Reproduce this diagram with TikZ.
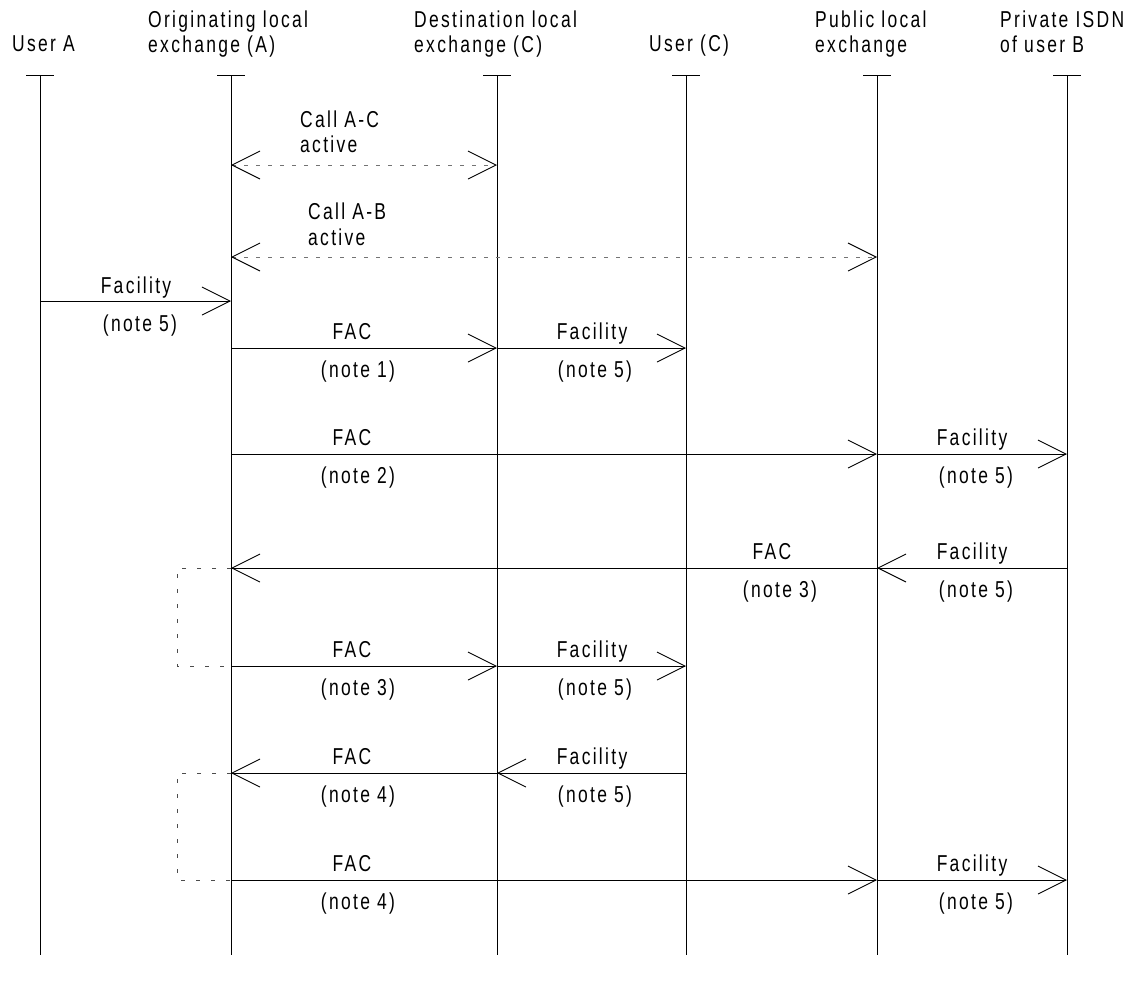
\documentclass[tikz,border=0pt]{standalone}
\usepackage{fontspec}
\setmainfont{Liberation Sans}[FakeStretch=0.76, LetterSpace=10]
\usetikzlibrary{arrows.meta}
\tikzset{
  lbl/.style={font=\fontsize{23}{25}\selectfont, inner sep=0pt, anchor=base},
  hdr/.style={font=\fontsize{23}{25}\selectfont, inner sep=0pt, anchor=base west, align=left},
  life/.style={line width=0.9pt, black},
  msg/.style={line width=0.9pt, black, -{Straight Barb[length=28pt,width=28pt,line width=0.9pt]}},
  dmsg/.style={line width=0.9pt, black!55, dash pattern=on 4pt off 8pt,
     {Straight Barb[length=28pt,width=28pt,line width=0.9pt,color=black]}-{Straight Barb[length=28pt,width=28pt,line width=0.9pt,color=black]}},
  brk/.style={line width=0.8pt, black!70, dash pattern=on 4pt off 11pt},
}
\begin{document}
\begin{tikzpicture}[x=1pt,y=-1pt]
\useasboundingbox (0,0) rectangle (1137,983);
% lifeline anchors
\foreach \n/\x in {A/40,O/231,D/497,C/686,P/877,B/1067}{
  \coordinate (t\n) at (\x,75);
  \coordinate (b\n) at (\x,955);
  \coordinate (l\n) at (\x-14,75);
  \coordinate (r\n) at (\x+14,75);
}
% headers (base = baseline of last line)
\node[hdr] (hA) at (12,51) {User A};
\node[hdr] (hO) at (148,52) {Originating local\\exchange (A)};
\node[hdr] (hD) at (414,52) {Destination local\\exchange (C)};
\node[hdr] (hC) at (649,51) {User (C)};
\node[hdr] (hP) at (815,52) {Public local\\exchange};
\node[hdr] (hB) at (1000,52) {Private ISDN\\of user B};
% lifelines
\foreach \n in {A,O,D,C,P,B}{
  \draw[life] (l\n) -- (r\n);
  \draw[life] (t\n) -- (b\n);
}
% rows
\coordinate (r1) at (0,165);
\coordinate (r2) at (0,257);
\coordinate (r3) at (0,301);
\coordinate (r4) at (0,348);
\coordinate (r5) at (0,454);
\coordinate (r6) at (0,568);
\coordinate (r7) at (0,666);
\coordinate (r8) at (0,773);
\coordinate (r9) at (0,880);
% call active
\draw[dmsg] (tO |- r1) -- (tD |- r1);
\node[hdr] (c1a) at (300,127) {Call A-C};
\node[hdr] (c1b) at (300,152) {active};
\draw[dmsg] (tO |- r2) -- (tP |- r2);
\node[hdr] (c2a) at (308,219) {Call A-B};
\node[hdr] (c2b) at (308,245) {active};
% facility from user A
\draw[msg] (tA |- r3) -- (tO |- r3);
\node[lbl] (m3a) at (136,293) {Facility};
\node[lbl] (m3b) at (140,331) {(note 5)};
% row 4
\draw[msg] (tO |- r4) -- (tD |- r4);
\draw[msg] (tD |- r4) -- (tC |- r4);
\node[lbl] (m4a) at (352,339) {FAC};
\node[lbl] (m4b) at (358,377) {(note 1)};
\node[lbl] (m4c) at (592,339) {Facility};
\node[lbl] (m4d) at (595,377) {(note 5)};
% row 5
\draw[msg] (tO |- r5) -- (tP |- r5);
\draw[msg] (tP |- r5) -- (tB |- r5);
\node[lbl] (m5a) at (352,445) {FAC};
\node[lbl] (m5b) at (358,483) {(note 2)};
\node[lbl] (m5c) at (972,445) {Facility};
\node[lbl] (m5d) at (976,483) {(note 5)};
% row 6
\draw[msg] (tB |- r6) -- (tP |- r6);
\draw[msg] (tP |- r6) -- (tO |- r6);
\node[lbl] (m6a) at (772,559) {FAC};
\node[lbl] (m6b) at (780,597) {(note 3)};
\node[lbl] (m6c) at (972,559) {Facility};
\node[lbl] (m6d) at (976,597) {(note 5)};
% row 7
\draw[msg] (tO |- r7) -- (tD |- r7);
\draw[msg] (tD |- r7) -- (tC |- r7);
\node[lbl] (m7a) at (352,657) {FAC};
\node[lbl] (m7b) at (358,695) {(note 3)};
\node[lbl] (m7c) at (592,657) {Facility};
\node[lbl] (m7d) at (595,695) {(note 5)};
% row 8
\draw[msg] (tC |- r8) -- (tD |- r8);
\draw[msg] (tD |- r8) -- (tO |- r8);
\node[lbl] (m8a) at (352,764) {FAC};
\node[lbl] (m8b) at (358,802) {(note 4)};
\node[lbl] (m8c) at (592,764) {Facility};
\node[lbl] (m8d) at (595,802) {(note 5)};
% row 9
\draw[msg] (tO |- r9) -- (tP |- r9);
\draw[msg] (tP |- r9) -- (tB |- r9);
\node[lbl] (m9a) at (352,871) {FAC};
\node[lbl] (m9b) at (358,909) {(note 4)};
\node[lbl] (m9c) at (972,871) {Facility};
\node[lbl] (m9d) at (976,909) {(note 5)};
% dashed brackets
\coordinate (k1) at (177,568);
\coordinate (k2) at (177,666);
\coordinate (k3) at (177,773);
\coordinate (k4) at (177,880);
\draw[brk] (tO |- r6) -- (k1) -- (k2) -- (tO |- r7);
\draw[brk] (tO |- r8) -- (k3) -- (k4) -- (tO |- r9);
\end{tikzpicture}
\end{document}
